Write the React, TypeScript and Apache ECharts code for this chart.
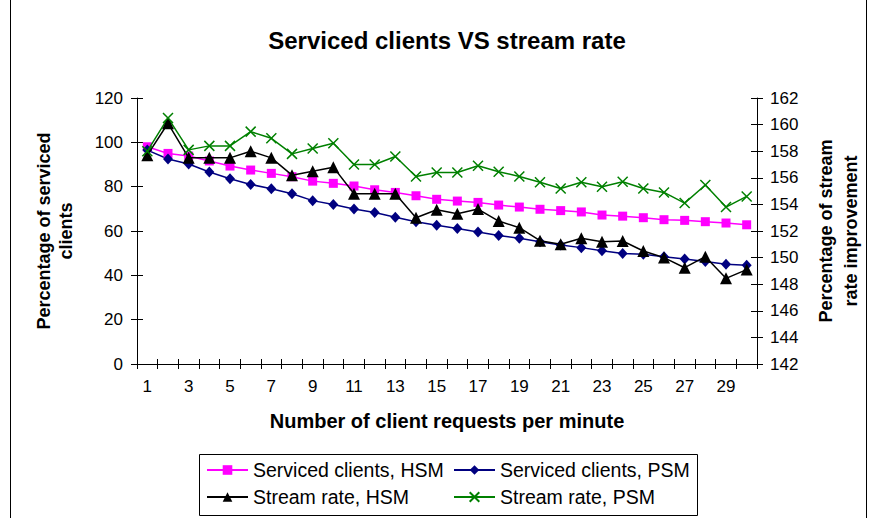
import React, { useEffect, useRef } from "react";
import * as echarts from "echarts";

const categories = Array.from({ length: 30 }, (_, i) => String(i + 1));
const servicedHSM = [98, 95, 93.8, 91.6, 89.3, 87.5, 86, 84.5, 82.5, 81.5, 80.3, 78.6, 77.4, 75.9, 74.3, 73.5, 72.9, 71.7, 70.8, 69.8, 69.2, 68.6, 67.2, 66.7, 66, 65.1, 64.8, 64.2, 63.6, 62.8];
const servicedPSM = [96.5, 92.5, 90.2, 86.6, 83.6, 81, 79.1, 76.8, 73.7, 72, 69.9, 68.3, 66.2, 64.2, 62.6, 61.1, 59.5, 58, 56.7, 55.2, 53.7, 52.5, 51.1, 49.9, 49.5, 48.4, 47.4, 46.2, 45, 44.5];
const streamHSM = [157.7, 160.1, 157.5, 157.5, 157.5, 158.0, 157.5, 156.2, 156.5, 156.8, 154.8, 154.8, 154.8, 153.0, 153.6, 153.3, 153.65, 152.75, 152.25, 151.27, 151.0, 151.45, 151.2, 151.25, 150.5, 150.0, 149.24, 150.07, 148.44, 149.1];
const streamPSM = [158.0, 160.5, 158.1, 158.4, 158.4, 159.47, 158.97, 157.8, 158.2, 158.6, 157.0, 157.0, 157.6, 156.1, 156.4, 156.4, 156.9, 156.46, 156.1, 155.66, 155.2, 155.66, 155.33, 155.7, 155.2, 154.9, 154.1, 155.46, 153.8, 154.6];

const FONT = "'Liberation Sans', Arial, sans-serif";

export default function App() {
  const ref = useRef<HTMLDivElement>(null);
  useEffect(() => {
    if (!ref.current) return;
    const chart = echarts.init(ref.current, null, { renderer: "svg" });
    const legendText = { fontFamily: FONT, fontSize: 19.5, color: "#000" };
    const legendBase = {
      orient: "horizontal",
      padding: 0,
      itemWidth: 41,
      itemHeight: 12,
      itemGap: 0,
      textStyle: legendText,
    };
    chart.setOption({
      animation: false,
      backgroundColor: "#fff",
      textStyle: { fontFamily: FONT },
      title: {
        text: "Serviced clients VS stream rate",
        left: 447,
        textAlign: "center",
        top: 28,
        padding: 0,
        textStyle: { fontFamily: FONT, fontSize: 24, fontWeight: "bold", color: "#000" },
      },
      grid: { left: 137, right: 114, top: 98, bottom: 154 },
      legend: [
        { ...legendBase, left: 206, top: 460, data: ["Serviced clients, HSM"] },
        { ...legendBase, left: 453, top: 460, data: ["Serviced clients, PSM"] },
        { ...legendBase, left: 206, top: 487, data: ["Stream rate, HSM"] },
        { ...legendBase, left: 453, top: 487, data: ["Stream rate, PSM"] },
      ],
      xAxis: [
        {
          type: "category",
          data: categories,
          boundaryGap: true,
          name: "Number of client requests per minute",
          nameLocation: "middle",
          nameGap: 47,
          nameTextStyle: { fontFamily: FONT, fontSize: 20, fontWeight: "bold", color: "#000" },
          axisLine: { lineStyle: { color: "#000", width: 1 } },
          axisTick: { show: true, interval: 0, length: 5, lineStyle: { color: "#000" } },
          axisLabel: { interval: 1, fontFamily: FONT, fontSize: 17, color: "#000", margin: 14 },
          splitLine: { show: false },
        },
        {
          type: "category",
          data: categories,
          position: "bottom",
          axisLine: { show: false },
          axisTick: { show: true, inside: true, interval: 0, length: 5, lineStyle: { color: "#000" } },
          axisLabel: { show: false },
          splitLine: { show: false },
        },
      ],
      yAxis: [
        {
          type: "value",
          position: "left",
          min: 0,
          max: 120,
          interval: 20,
          name: "Percentage of serviced\nclients",
          nameLocation: "middle",
          nameGap: 60,
          nameRotate: 90,
          nameTextStyle: { fontFamily: FONT, fontSize: 18, fontWeight: "bold", color: "#000", lineHeight: 22 },
          axisLine: { show: true, lineStyle: { color: "#000" } },
          axisTick: { show: true, length: 6, lineStyle: { color: "#000" } },
          axisLabel: { fontFamily: FONT, fontSize: 17, color: "#000", margin: 14 },
          splitLine: { show: false },
        },
        {
          type: "value",
          position: "right",
          min: 142,
          max: 162,
          interval: 2,
          name: "Percentage of stream\nrate improvement",
          nameLocation: "middle",
          nameGap: 56,
          nameRotate: 90,
          nameTextStyle: { fontFamily: FONT, fontSize: 18, fontWeight: "bold", color: "#000", lineHeight: 25 },
          axisLine: { show: true, lineStyle: { color: "#000" } },
          axisTick: { show: true, length: 6, lineStyle: { color: "#000" } },
          axisLabel: { fontFamily: FONT, fontSize: 17, color: "#000", margin: 13 },
          splitLine: { show: false },
        },
        {
          type: "value",
          position: "left",
          min: 0,
          max: 120,
          interval: 20,
          axisLine: { show: false },
          axisTick: { show: true, inside: true, length: 6, lineStyle: { color: "#000" } },
          axisLabel: { show: false },
          splitLine: { show: false },
        },
        {
          type: "value",
          position: "right",
          min: 142,
          max: 162,
          interval: 2,
          axisLine: { show: false },
          axisTick: { show: true, inside: true, length: 6, lineStyle: { color: "#000" } },
          axisLabel: { show: false },
          splitLine: { show: false },
        },
      ],
      series: [
        {
          name: "Serviced clients, HSM",
          type: "line",
          yAxisIndex: 0,
          data: servicedHSM,
          color: "#FF00FF",
          symbol: "rect",
          symbolSize: 9,
          lineStyle: { width: 1.5, color: "#FF00FF" },
          itemStyle: { color: "#FF00FF" },
          z: 3,
        },
        {
          name: "Serviced clients, PSM",
          type: "line",
          yAxisIndex: 0,
          data: servicedPSM,
          color: "#000080",
          symbol: "diamond",
          symbolSize: [10, 11],
          lineStyle: { width: 1.5, color: "#000080" },
          itemStyle: { color: "#000080" },
          z: 3,
        },
        {
          name: "Stream rate, HSM",
          type: "line",
          yAxisIndex: 1,
          data: streamHSM,
          color: "#000000",
          symbol: "triangle",
          symbolSize: 12,
          lineStyle: { width: 1.5, color: "#000000" },
          itemStyle: { color: "#000000" },
          z: 4,
        },
        {
          name: "Stream rate, PSM",
          type: "line",
          yAxisIndex: 1,
          data: streamPSM,
          color: "#008000",
          symbol: "path://M0,0L10,10M0,10L10,0",
          symbolSize: 10,
          lineStyle: { width: 1.5, color: "#008000" },
          itemStyle: { color: "#008000", borderColor: "#008000", borderWidth: 1.5 },
          z: 4,
        },
      ],
      graphic: [
        {
          type: "rect",
          shape: { x: 10.5, y: -2, width: 856, height: 530 },
          style: { fill: "none", stroke: "#000", lineWidth: 1 },
          silent: true,
        },
        {
          type: "rect",
          shape: { x: 199.5, y: 454.5, width: 498, height: 61 },
          style: { fill: "none", stroke: "#000", lineWidth: 1 },
          silent: true,
        },
      ],
    });
    return () => chart.dispose();
  }, []);
  return <div ref={ref} style={{ width: 871, height: 518, position: "absolute", left: 0, top: 0 }} />;
}
